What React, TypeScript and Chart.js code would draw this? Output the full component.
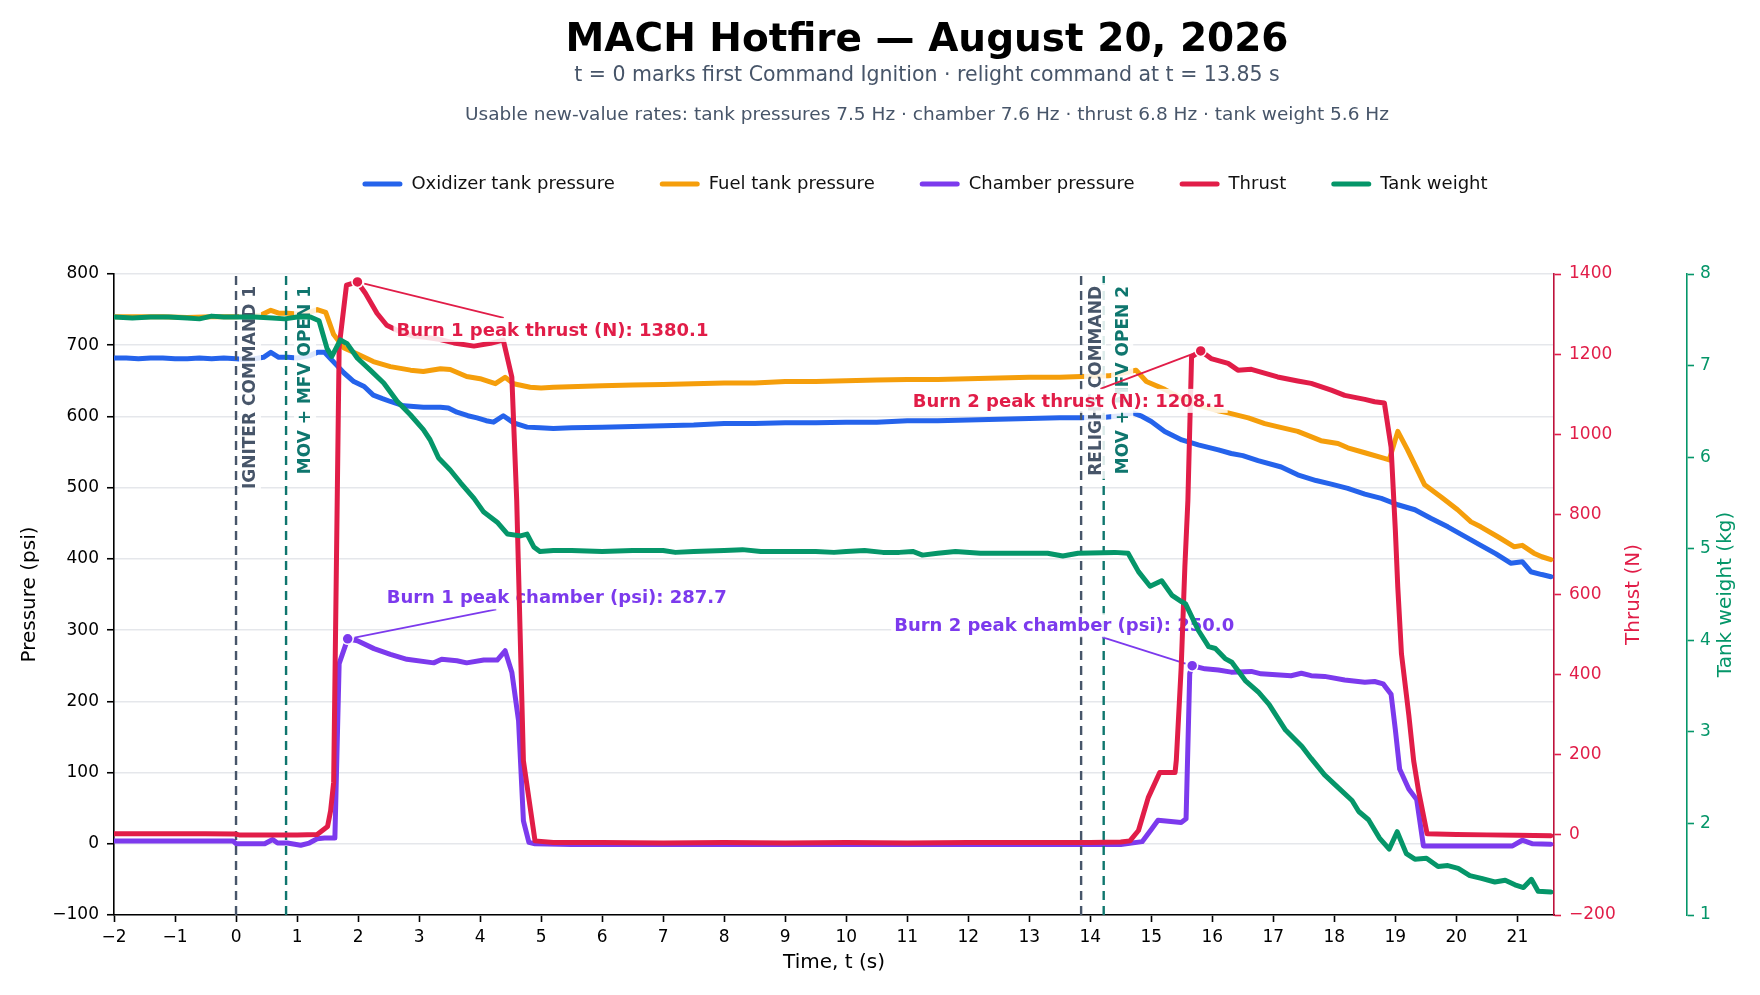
import React, { useEffect, useRef } from "react";
import { Chart, registerables } from "chart.js";

Chart.register(...registerables);

const FONT = '"DejaVu Sans", "Noto Sans", sans-serif';
Chart.defaults.font.family = FONT;

// ---------- texts ----------
const TITLE = "MACH Hotfire — August 20, 2026";
const SUBTITLE = "t = 0 marks first Command Ignition · relight command at t = 13.85 s";
const RATES_LINE =
  "Usable new-value rates: tank pressures 7.5 Hz · chamber 7.6 Hz · thrust 6.8 Hz · tank weight 5.6 Hz";
const SERIES_NAMES = ["Oxidizer tank pressure", "Fuel tank pressure", "Chamber pressure", "Thrust", "Tank weight"];
const X_TITLE = "Time, t (s)";
const Y_TITLE = "Pressure (psi)";
const THRUST_TITLE = "Thrust (N)";
const WEIGHT_TITLE = "Tank weight (kg)";

// ---------- data ----------
const OX_T = [-2.0, -1.8, -1.6, -1.4, -1.2, -1.0, -0.8, -0.6, -0.4, -0.2, 0.0, 0.15, 0.3, 0.45, 0.57, 0.7, 0.85, 1.0, 1.2, 1.33, 1.45, 1.55, 1.66, 1.77, 1.93, 2.1, 2.25, 2.4, 2.53, 2.75, 3.07, 3.35, 3.48, 3.62, 3.8, 3.95, 4.1, 4.22, 4.38, 4.55, 4.77, 4.98, 5.2, 5.5, 6.0, 6.5, 7.0, 7.5, 8.0, 8.5, 9.0, 9.5, 10.0, 10.5, 11.0, 11.5, 12.0, 12.5, 13.0, 13.5, 13.85, 14.05, 14.25, 14.5, 14.7, 14.85, 15.0, 15.22, 15.5, 15.77, 16.1, 16.31, 16.5, 16.75, 17.13, 17.4, 17.7, 17.95, 18.22, 18.5, 18.77, 19.04, 19.32, 19.58, 19.86, 20.13, 20.4, 20.65, 20.89, 21.08, 21.22, 21.4, 21.55];
const OX_PSI = [682, 682, 681, 682, 682, 681, 681, 682, 681, 682, 681, 680, 681, 683, 690, 683, 683, 682, 685, 690, 690, 681, 671, 661, 649, 642, 630, 625, 621, 615, 613, 613, 612, 606, 601, 598, 594, 592, 601, 591, 585, 584, 583, 584, 585, 586, 587, 588, 590, 590, 591, 591, 592, 592, 594, 594, 595, 596, 597, 598, 598, 599, 599, 601, 605, 600, 593, 579, 567, 560, 553, 548, 545, 538, 529, 518, 510, 505, 499, 491, 485, 476, 469, 457, 445, 432, 419, 407, 394, 396, 382, 378, 375];

const FUEL_T = [-2.0, -1.6, -1.2, -0.8, -0.4, 0.0, 0.2, 0.4, 0.57, 0.7, 0.85, 1.0, 1.2, 1.33, 1.47, 1.6, 1.77, 1.98, 2.25, 2.53, 2.86, 3.07, 3.35, 3.51, 3.78, 4.0, 4.25, 4.41, 4.55, 4.82, 5.0, 5.2, 5.6, 6.0, 6.5, 7.0, 7.5, 8.0, 8.5, 9.0, 9.5, 10.0, 10.5, 11.0, 11.5, 12.0, 12.5, 13.0, 13.5, 13.85, 14.3, 14.6, 14.75, 14.92, 15.22, 15.5, 15.8, 16.1, 16.26, 16.59, 16.86, 17.1, 17.4, 17.78, 18.06, 18.22, 18.5, 18.82, 18.9, 19.04, 19.2, 19.48, 19.75, 20.02, 20.24, 20.4, 20.7, 20.95, 21.08, 21.27, 21.4, 21.55];
const FUEL_PSI = [740, 740, 740, 739, 740, 740, 741, 742, 749, 745, 745, 744, 746, 750, 746, 715, 696, 688, 677, 670, 665, 663, 667, 666, 656, 653, 646, 655, 646, 641, 640, 641, 642, 643, 644, 645, 646, 647, 647, 649, 649, 650, 651, 652, 652, 653, 654, 655, 655, 656, 657, 662, 665, 649, 638, 625, 615, 608, 605, 598, 590, 585, 579, 566, 562, 556, 549, 541, 539, 579, 553, 504, 487, 469, 452, 445, 430, 417, 419, 408, 403, 399];

const CH_T = [-2.0, -1.5, -1.0, -0.5, -0.05, 0.0, 0.47, 0.6, 0.68, 0.84, 1.06, 1.2, 1.33, 1.45, 1.62, 1.69, 1.83, 1.99, 2.26, 2.53, 2.8, 3.24, 3.37, 3.62, 3.78, 4.06, 4.28, 4.41, 4.52, 4.63, 4.71, 4.8, 4.9, 5.5, 6.5, 7.5, 8.5, 9.5, 10.5, 11.5, 12.5, 13.5, 14.5, 14.85, 15.0, 15.11, 15.49, 15.57, 15.63, 15.67, 15.88, 16.1, 16.31, 16.64, 16.8, 17.29, 17.46, 17.62, 17.84, 18.17, 18.5, 18.66, 18.8, 18.93, 19.0, 19.07, 19.22, 19.35, 19.46, 20.0, 20.5, 20.92, 21.08, 21.25, 21.55];
const CH_PSI = [4, 4, 4, 4, 4, 0, 0, 6, 1, 1, -2, 1, 7, 8, 8, 253, 287.7, 285, 274, 266, 259, 254, 259, 257, 254, 258, 258, 271, 241, 173, 32, 2, 0, -1, -1, -1, -1, -1, -1, -1, -1, -1, -1, 3, 20, 33, 30, 35, 239, 250.0, 245.6, 244, 241, 242, 238.6, 236, 239.4, 236, 235, 230, 226.8, 227.8, 224.5, 210, 160, 105, 77, 62, -3, -3, -3, -3, 5, 0, -0.5];

const TH_T = [-2.0, -1.5, -1.0, -0.5, -0.02, 0.05, 0.5, 1.0, 1.33, 1.5, 1.55, 1.6, 1.69, 1.81, 1.99, 2.12, 2.31, 2.47, 2.69, 2.9, 3.1, 3.3, 3.57, 3.9, 4.17, 4.38, 4.52, 4.6, 4.71, 4.9, 5.2, 6.0, 7.0, 8.0, 9.0, 10.0, 11.0, 12.0, 13.0, 14.0, 14.5, 14.65, 14.79, 14.95, 15.14, 15.39, 15.41, 15.49, 15.55, 15.6, 15.66, 15.81, 15.98, 16.26, 16.42, 16.64, 17.07, 17.4, 17.62, 17.95, 18.17, 18.5, 18.66, 18.82, 18.93, 19.0, 19.04, 19.1, 19.22, 19.3, 19.38, 19.52, 20.0, 20.5, 21.0, 21.55];
const TH_N = [3, 3, 3, 3, 2, 0, 0, 0, 1, 21, 60, 131, 1218, 1372, 1380.1, 1352, 1302, 1272, 1256, 1245, 1242, 1238, 1228, 1220, 1227, 1235, 1143, 835, 185, -15, -19, -19, -20, -19, -20, -19, -20, -19, -19, -19, -18, -15, 11, 93, 156, 156, 186, 418, 668, 835, 1193, 1208.1, 1189, 1177, 1160, 1162, 1143, 1133, 1127, 1110, 1097, 1087, 1081, 1078, 968, 760, 618, 452, 300, 185, 110, 3, 1, 0, -1, -2];

const W_T = [-2.0, -1.7, -1.4, -1.1, -0.8, -0.6, -0.4, -0.2, 0.0, 0.3, 0.6, 0.8, 1.0, 1.22, 1.36, 1.49, 1.57, 1.71, 1.82, 1.99, 2.2, 2.42, 2.64, 2.86, 3.07, 3.18, 3.32, 3.51, 3.68, 3.9, 4.06, 4.28, 4.45, 4.66, 4.77, 4.88, 4.98, 5.2, 5.5, 6.0, 6.5, 7.0, 7.2, 7.5, 8.0, 8.3, 8.6, 9.0, 9.5, 9.8, 10.0, 10.3, 10.6, 10.87, 11.09, 11.25, 11.5, 11.79, 12.2, 12.8, 13.3, 13.55, 13.8, 14.4, 14.62, 14.79, 14.98, 15.17, 15.34, 15.5, 15.56, 15.77, 15.94, 16.05, 16.21, 16.32, 16.54, 16.76, 16.93, 17.2, 17.47, 17.62, 17.84, 18.05, 18.29, 18.4, 18.56, 18.74, 18.9, 19.03, 19.18, 19.32, 19.51, 19.7, 19.86, 20.03, 20.22, 20.41, 20.63, 20.8, 20.96, 21.1, 21.23, 21.34, 21.55];
const W_KG = [7.53, 7.52, 7.53, 7.53, 7.52, 7.51, 7.54, 7.53, 7.53, 7.53, 7.52, 7.51, 7.53, 7.53, 7.49, 7.19, 7.10, 7.28, 7.24, 7.08, 6.95, 6.81, 6.61, 6.46, 6.30, 6.19, 5.99, 5.86, 5.72, 5.55, 5.40, 5.29, 5.16, 5.14, 5.16, 5.02, 4.97, 4.98, 4.98, 4.97, 4.98, 4.98, 4.96, 4.97, 4.98, 4.99, 4.97, 4.97, 4.97, 4.96, 4.97, 4.98, 4.96, 4.96, 4.97, 4.93, 4.95, 4.97, 4.95, 4.95, 4.95, 4.92, 4.95, 4.96, 4.95, 4.75, 4.59, 4.65, 4.49, 4.42, 4.40, 4.11, 3.93, 3.91, 3.80, 3.76, 3.56, 3.43, 3.30, 3.02, 2.84, 2.71, 2.53, 2.40, 2.25, 2.13, 2.04, 1.84, 1.72, 1.91, 1.67, 1.61, 1.62, 1.53, 1.54, 1.51, 1.43, 1.40, 1.36, 1.38, 1.33, 1.30, 1.39, 1.26, 1.25];

const EVENT_T = [0, 0.82, 13.85, 14.22];
const EVENT_LABELS = ["IGNITER COMMAND 1", "MOV + MFV OPEN 1", "RELIGHT COMMAND", "MOV + MFV OPEN 2"];
const BURN_WINDOWS = [[-2, 10], [10, 22]];

// ---------- styles ----------
const C_OX = "#2563eb";
const C_FUEL = "#f59e0b";
const C_CH = "#7c3aed";
const C_TH = "#e11d48";
const C_W = "#059669";
const C_SLATE = "#475569";
const C_TEAL = "#0f766e";
const EVENT_COLORS = [C_SLATE, C_TEAL, C_SLATE, C_TEAL];
const EVENT_LABEL_DX = [14, 19, 14, 18.5];
const THRUST_ANN_OFFSET = [[195, 48], [-132, 50]];
const CHAMBER_ANN_OFFSET = [[209, -41.5], [-128, -40.5]];
const TITLE_CX = 927;
const LEGEND_SHIFT_X = 45;
const LEGEND_TEXT_Y = 184;
const LEGEND_PAD = 45;
const LEGEND_FONT = 18;
const CHART_TOP = 274;

const fmt = (v: number | string) => String(v).replace("-", "\u2212");
const pts = (ts: number[], vs: number[]) =>
  ts.slice(0, Math.min(ts.length, vs.length)).map((t, i) => ({ x: t, y: vs[i] }));

function peakIdx(ts: number[], vs: number[], lo: number, hi: number) {
  let best = -1;
  for (let i = 0; i < ts.length; i++) {
    if (ts[i] >= lo && ts[i] < hi && (best < 0 || vs[i] > vs[best])) best = i;
  }
  return best;
}

function drawAnnotation(
  ctx: CanvasRenderingContext2D,
  px: number,
  py: number,
  dx: number,
  dy: number,
  text: string,
  color: string
) {
  ctx.save();
  ctx.font = `bold 18px ${FONT}`;
  const w = ctx.measureText(text).width;
  const h = 18;
  const pad = 3;
  const cx = px + dx;
  const cy = py + dy;
  const hw = w / 2 + pad;
  const hh = h / 2 + pad;
  const vx = px - cx;
  const vy = py - cy;
  const s = Math.min(Math.abs(vx) > 0 ? hw / Math.abs(vx) : 1e9, Math.abs(vy) > 0 ? hh / Math.abs(vy) : 1e9);
  const len = Math.hypot(vx, vy);
  const ex = cx + vx * s;
  const ey = cy + vy * s;
  const shrink = 7 / len;
  ctx.strokeStyle = color;
  ctx.lineWidth = 1.8;
  ctx.beginPath();
  ctx.moveTo(ex, ey);
  ctx.lineTo(px - vx * shrink, py - vy * shrink);
  ctx.stroke();
  ctx.fillStyle = "rgba(255,255,255,0.85)";
  ctx.fillRect(cx - hw, cy - hh, 2 * hw, 2 * hh);
  ctx.fillStyle = color;
  ctx.textAlign = "center";
  ctx.textBaseline = "middle";
  ctx.fillText(text, cx, cy + 1);
  ctx.beginPath();
  ctx.arc(px, py, 5.5, 0, Math.PI * 2);
  ctx.fillStyle = color;
  ctx.fill();
  ctx.lineWidth = 1.5;
  ctx.strokeStyle = "#ffffff";
  ctx.stroke();
  ctx.restore();
}

function drawEvents(chart: any) {
  const { ctx, chartArea, scales } = chart;
  ctx.save();
  EVENT_T.forEach((t, i) => {
    const x = scales.x.getPixelForValue(t);
    ctx.setLineDash([9, 6]);
    ctx.lineWidth = 2.4;
    ctx.strokeStyle = EVENT_COLORS[i];
    ctx.beginPath();
    ctx.moveTo(x, chartArea.bottom);
    ctx.lineTo(x, chartArea.top);
    ctx.stroke();
  });
  ctx.setLineDash([]);
  EVENT_T.forEach((t, i) => {
    const x = scales.x.getPixelForValue(t) + EVENT_LABEL_DX[i];
    const y = chartArea.top + 12;
    ctx.font = `bold 17px ${FONT}`;
    const w = ctx.measureText(EVENT_LABELS[i]).width;
    ctx.save();
    ctx.translate(x, y);
    ctx.rotate(-Math.PI / 2);
    ctx.fillStyle = "rgba(255,255,255,0.85)";
    ctx.fillRect(-w - 3, -11, w + 6, 22);
    ctx.fillStyle = EVENT_COLORS[i];
    ctx.textAlign = "right";
    ctx.textBaseline = "middle";
    ctx.fillText(EVENT_LABELS[i], 0, 1);
    ctx.restore();
  });
  ctx.restore();
}

function drawChamberAnnotations(chart: any) {
  const { ctx, scales } = chart;
  BURN_WINDOWS.forEach(([lo, hi], b) => {
    const k = peakIdx(CH_T, CH_PSI, lo, hi);
    if (k < 0) return;
    const px = scales.x.getPixelForValue(CH_T[k]);
    const py = scales.y.getPixelForValue(CH_PSI[k]);
    drawAnnotation(ctx, px, py, CHAMBER_ANN_OFFSET[b][0], CHAMBER_ANN_OFFSET[b][1],
      `Burn ${b + 1} peak chamber (psi): ${CH_PSI[k].toFixed(1)}`, C_CH);
  });
}

function drawThrustAnnotations(chart: any) {
  const { ctx, scales } = chart;
  BURN_WINDOWS.forEach(([lo, hi], b) => {
    const k = peakIdx(TH_T, TH_N, lo, hi);
    if (k < 0) return;
    const px = scales.x.getPixelForValue(TH_T[k]);
    const py = scales.yThrust.getPixelForValue(TH_N[k]);
    drawAnnotation(ctx, px, py, THRUST_ANN_OFFSET[b][0], THRUST_ANN_OFFSET[b][1],
      `Burn ${b + 1} peak thrust (N): ${TH_N[k].toFixed(1)}`, C_TH);
  });
}

function drawRotatedTitle(ctx: CanvasRenderingContext2D, text: string, x: number, y: number, color: string) {
  ctx.save();
  ctx.translate(x, y);
  ctx.rotate(-Math.PI / 2);
  ctx.font = `20px ${FONT}`;
  ctx.fillStyle = color;
  ctx.textAlign = "center";
  ctx.textBaseline = "middle";
  ctx.fillText(text, 0, 0);
  ctx.restore();
}

const overlayPlugin = {
  id: "hotfireOverlay",
  afterLayout(chart: any) {
    const lg = chart.legend;
    if (!lg) return;
    const h = lg.bottom - lg.top;
    const top = LEGEND_TEXT_Y - LEGEND_PAD - LEGEND_FONT / 2;
    lg.top = top;
    lg.bottom = top + h;
    lg.left += LEGEND_SHIFT_X;
    lg.right += LEGEND_SHIFT_X;
  },
  afterDatasetDraw(chart: any, args: any) {
    if (args.index === 2) {
      drawEvents(chart);
      drawChamberAnnotations(chart);
    }
    if (args.index === 3) {
      drawThrustAnnotations(chart);
    }
  },
  afterDraw(chart: any) {
    const { ctx, chartArea, scales } = chart;
    ctx.save();
    ctx.textAlign = "center";
    ctx.textBaseline = "alphabetic";
    ctx.fillStyle = "#000";
    ctx.font = `bold 39px ${FONT}`;
    ctx.fillText(TITLE, TITLE_CX, 51);
    ctx.fillStyle = C_SLATE;
    ctx.font = `20.5px ${FONT}`;
    ctx.fillText(SUBTITLE, TITLE_CX, 81);
    ctx.font = `18.5px ${FONT}`;
    ctx.fillText(RATES_LINE, TITLE_CX, 119.5);
    ctx.restore();
    const cy = (chartArea.top + chartArea.bottom) / 2;
    drawRotatedTitle(ctx, THRUST_TITLE, scales.yThrust.left + 80, cy, C_TH);
    drawRotatedTitle(ctx, WEIGHT_TITLE, scales.yWeight.left + 39, cy, C_W);
  },
};

const lineStyle = {
  borderWidth: 5,
  pointRadius: 0,
  pointHoverRadius: 0,
  tension: 0,
  fill: false,
  borderJoinStyle: "round" as const,
  borderCapStyle: "round" as const,
};

export default function App() {
  const ref = useRef<HTMLCanvasElement | null>(null);

  useEffect(() => {
    if (!ref.current) return;
    const legendHeight = LEGEND_FONT + LEGEND_PAD + 10;
    const chart = new Chart(ref.current, {
      type: "line",
      data: {
        datasets: [
          { ...lineStyle, label: SERIES_NAMES[0], data: pts(OX_T, OX_PSI), borderColor: C_OX, backgroundColor: C_OX, yAxisID: "y", order: 4 },
          { ...lineStyle, label: SERIES_NAMES[1], data: pts(FUEL_T, FUEL_PSI), borderColor: C_FUEL, backgroundColor: C_FUEL, yAxisID: "y", order: 3 },
          { ...lineStyle, label: SERIES_NAMES[2], data: pts(CH_T, CH_PSI), borderColor: C_CH, backgroundColor: C_CH, yAxisID: "y", order: 2 },
          { ...lineStyle, label: SERIES_NAMES[3], data: pts(TH_T, TH_N), borderColor: C_TH, backgroundColor: C_TH, yAxisID: "yThrust", order: 1 },
          { ...lineStyle, label: SERIES_NAMES[4], data: pts(W_T, W_KG), borderColor: C_W, backgroundColor: C_W, yAxisID: "yWeight", order: 0 },
        ],
      },
      options: {
        responsive: false,
        animation: false,
        events: [],
        layout: { autoPadding: false, padding: { top: CHART_TOP - legendHeight, left: 0, right: 0, bottom: 0 } },
        plugins: {
          title: { display: false },
          tooltip: { enabled: false },
          legend: {
            display: true,
            position: "top",
            labels: {
              font: { size: LEGEND_FONT, family: FONT },
              color: "#111111",
              boxWidth: 40,
              boxHeight: 5,
              padding: LEGEND_PAD,
              generateLabels: (chart: any) => {
                const items = Chart.defaults.plugins.legend.labels.generateLabels(chart);
                return items
                  .map((it: any) => ({ ...it, lineWidth: 0, borderRadius: 2.5 }))
                  .sort((a: any, b: any) => a.datasetIndex - b.datasetIndex);
              },
            },
          },
        },
        scales: {
          x: {
            type: "linear",
            position: "bottom",
            min: -2,
            max: 21.6,
            ticks: {
              stepSize: 1,
              includeBounds: false,
              autoSkip: false,
              maxRotation: 0,
              padding: 5,
              color: "#000",
              font: { size: 17 },
              callback: (v: any) => fmt(v),
            },
            grid: { drawOnChartArea: false, drawTicks: true, tickLength: 7, tickColor: "#000", tickWidth: 1.6 },
            border: { display: true, color: "#000", width: 1.6 },
            title: { display: true, text: X_TITLE, color: "#000", font: { size: 20 }, padding: { top: 0, bottom: 20 } },
            afterFit: (s: any) => { s.height = 80; },
          },
          y: {
            type: "linear",
            position: "left",
            min: -100,
            max: 800,
            ticks: { stepSize: 100, padding: 8, color: "#000", font: { size: 17 }, callback: (v: any) => fmt(v) },
            grid: { color: "#e5e7eb", lineWidth: 1.5, drawTicks: true, tickLength: 7, tickColor: "#000", tickWidth: 1.6 },
            border: { display: true, color: "#000", width: 1.6 },
            title: { display: true, text: Y_TITLE, color: "#000", font: { size: 20 }, padding: { top: 18, bottom: 0 } },
            afterFit: (s: any) => { s.width = 114; },
          },
          yThrust: {
            type: "linear",
            position: "right",
            min: -200,
            max: 1400,
            ticks: { stepSize: 200, padding: 8, color: C_TH, font: { size: 17 }, callback: (v: any) => fmt(v) },
            grid: { drawOnChartArea: false, drawTicks: true, tickLength: 7, tickColor: C_TH, tickWidth: 1.6 },
            border: { display: true, color: "#be123c", width: 1.6 },
            afterFit: (s: any) => { s.width = 133; },
          },
          yWeight: {
            type: "linear",
            position: "right",
            min: 1,
            max: 8,
            ticks: { stepSize: 1, padding: 6, color: C_W, font: { size: 17 }, callback: (v: any) => fmt(v) },
            grid: { drawOnChartArea: false, drawTicks: true, tickLength: 7, tickColor: C_W, tickWidth: 1.6 },
            border: { display: true, color: C_W, width: 1.6 },
            afterFit: (s: any) => { s.width = 73; },
          },
        },
      } as any,
      plugins: [overlayPlugin as any],
    });
    return () => chart.destroy();
  }, []);

  return (
    <div style={{ position: "absolute", left: 0, top: 0, width: 1760, height: 995, background: "#ffffff" }}>
      <canvas ref={ref} width={1760} height={995} style={{ display: "block", width: 1760, height: 995 }} />
    </div>
  );
}
